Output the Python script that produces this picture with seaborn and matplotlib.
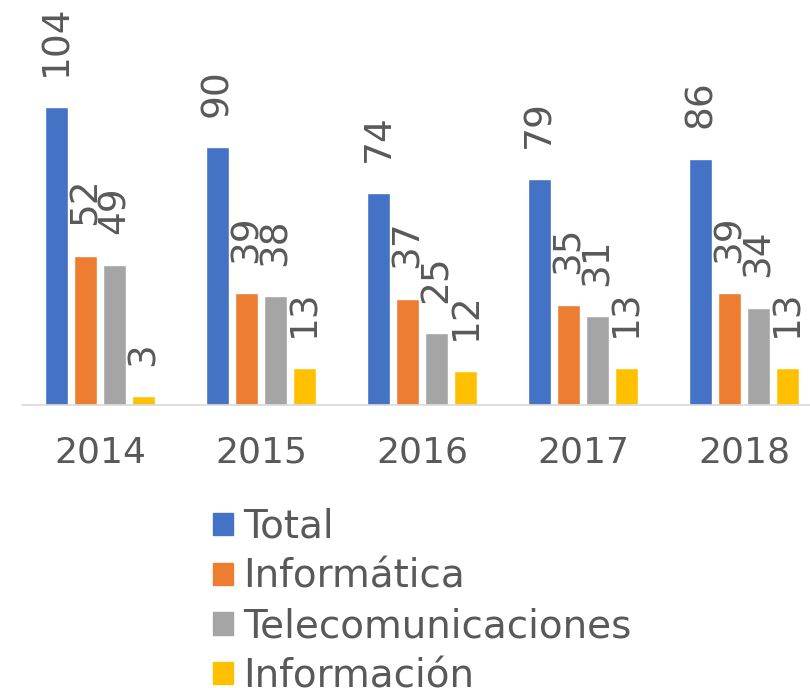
import matplotlib
matplotlib.use('Agg')
import matplotlib.pyplot as plt
import seaborn as sns
import pandas as pd

# Chart data
years = ['2014', '2015', '2016', '2017', '2018']
series = ['Total', 'Informática', 'Telecomunicaciones', 'Información']
total = [104, 90, 74, 79, 86]
informatica = [52, 39, 37, 35, 39]
telecom = [49, 38, 25, 31, 34]
informacion = [3, 13, 12, 13, 13]
colors = ['#4472C4', '#ED7D31', '#A5A5A5', '#FFC000']

df = pd.DataFrame({
    'year': years * 4,
    'serie': [s for s in series for _ in years],
    'value': total + informatica + telecom + informacion,
})

sns.set_style('white')
plt.rcParams['font.family'] = ['DejaVu Sans']
text_color = '#595959'

fig = plt.figure(figsize=(8.1, 6.88), dpi=100)
ax = fig.add_axes([22 / 810, 283 / 688, 788 / 810, 344 / 688])

sns.barplot(data=df, x='year', y='value', hue='serie', hue_order=series,
            palette=colors, width=0.72, gap=0.2, saturation=1, ax=ax, legend=False)

for cont in ax.containers:
    ax.bar_label(cont, rotation=90, padding=22, fontsize=27, color=text_color,
                 clip_on=False)

ax.set_xlim(-0.484, 4.41)
ax.set_ylim(0, 104 * 344 / 298)
ax.set_xlabel('')
ax.set_ylabel('')
ax.set_yticks([])
ax.tick_params(axis='x', length=0, pad=22, labelsize=26, labelcolor=text_color)
for side in ['top', 'right', 'left']:
    ax.spines[side].set_visible(False)
ax.spines['bottom'].set_color('#D9D9D9')
ax.spines['bottom'].set_linewidth(1.2)

handles = [plt.Rectangle((0, 0), 1, 1, color=c) for c in colors]
leg = fig.legend(handles, series, loc='upper left',
                 bbox_to_anchor=(213 / 810, 1 - 508 / 688), frameon=False,
                 fontsize=28, handlelength=0.51, handleheight=0.51,
                 handletextpad=0.26, labelspacing=0.3, labelcolor=text_color,
                 borderpad=0, borderaxespad=0)

fig.savefig('out.png', dpi=100)
plt.close()
